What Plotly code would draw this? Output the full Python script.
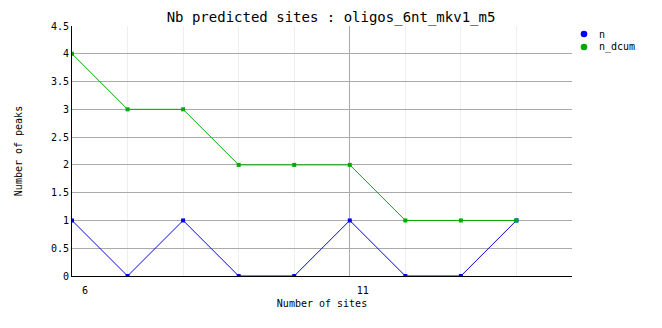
import plotly.graph_objects as go

sites = [6, 7, 8, 9, 10, 11, 12, 13, 14]
n = [1, 0, 1, 0, 0, 1, 0, 0, 1]
n_dcum = [4, 3, 3, 2, 2, 2, 1, 1, 1]
series_names = ["n", "n_dcum"]

FONT = "DejaVu Sans Mono"
BLUE = "#0000ff"
GREEN = "#00aa00"
colors = [BLUE, GREEN]

fig = go.Figure()
for name, ys, col in zip(series_names, [n, n_dcum], colors):
    fig.add_trace(go.Scatter(x=sites, y=ys, name=name, mode="lines+markers", showlegend=False,
                             line=dict(color=col, width=1),
                             marker=dict(symbol="square", size=4, color=col)))

# compact legend (marker + label) to the right of the plot, as in the reference
W_PLOT, H_PLOT = 500.0, 250.0
for i, (name, col) in enumerate(zip(series_names, colors)):
    yc = 0.968 - i * 13 / H_PLOT
    xc = 1.024
    rx, ry = 3.3 / W_PLOT, 3.3 / H_PLOT
    fig.add_shape(type="circle", xref="paper", yref="paper",
                  x0=xc - rx, x1=xc + rx, y0=yc - ry, y1=yc + ry,
                  fillcolor=col, line=dict(color=col, width=0))
    fig.add_annotation(text=name, xref="paper", yref="paper", x=1.049, y=yc,
                       xanchor="left", yanchor="middle", showarrow=False,
                       font=dict(family=FONT, size=10, color="black"))

fig.update_layout(
    width=662, height=328,
    margin=dict(l=72, r=90, t=26, b=52, autoexpand=False),
    paper_bgcolor="white", plot_bgcolor="white",
    font=dict(family=FONT, size=10, color="black"),
    title=dict(text="Nb predicted sites : oligos_6nt_mkv1_m5", x=0.5, xanchor="center",
               y=0.948, yanchor="middle", font=dict(family=FONT, size=14, color="black")),
    showlegend=False,
    xaxis=dict(range=[6, 15], tick0=6, dtick=5, showgrid=True, gridcolor="#aaaaaa",
               gridwidth=1, showline=True, linecolor="black", linewidth=1,
               ticks="", zeroline=False, tickfont=dict(size=10),
               ticklabelshift=13, ticklabelstandoff=5,
               minor=dict(dtick=1, showgrid=True, gridcolor="#eeeeee", gridwidth=1),
               title=dict(text="Number of sites", font=dict(size=10), standoff=4)),
    yaxis=dict(range=[0, 4.5], dtick=0.5, showgrid=True, gridcolor="#aaaaaa",
               gridwidth=1, showline=True, linecolor="black", linewidth=1,
               ticks="", zeroline=False, tickfont=dict(size=10),
               title=dict(text="Number of peaks", font=dict(size=10), standoff=26)),
)

fig.write_html("out.html")
